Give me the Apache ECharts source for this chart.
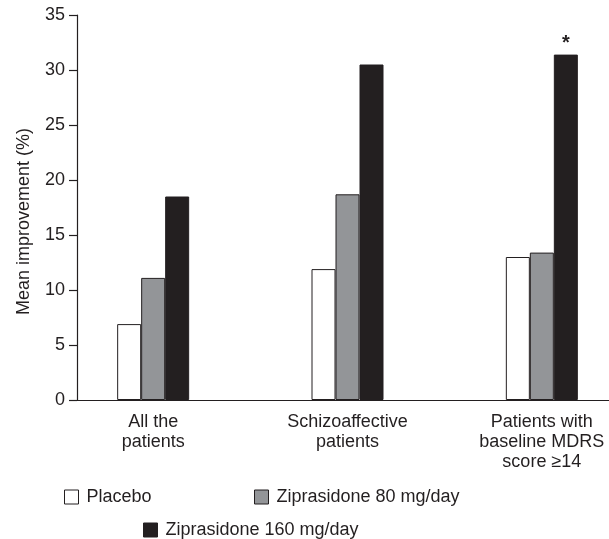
<!DOCTYPE html>
<html>
<head>
<meta charset="utf-8">
<script src="https://cdn.jsdelivr.net/npm/echarts@6/dist/echarts.min.js"></script>
<style>
  html, body { margin: 0; padding: 0; background: #ffffff; overflow: hidden; }
  /* the drawing surface runs a little past the right edge of the view */
  #chart { width: 640px; height: 539px; }
</style>
</head>
<body>
<div id="chart"></div>
<script>
// Patient groups on the x axis
var categories = ['All the\npatients', 'Schizoaffective\npatients', 'Patients with\nbaseline MDRS\nscore \u226514'];

// Mean improvement (%) per treatment arm
var placebo = [6.9, 11.9, 13.0];
var zip80 = [11.1, 18.7, 13.4];
var zip160 = [18.5, 30.5, 31.4];

// Significance marker per group for the 160 mg/day arm
var zip160Marks = ['', '', '*'];

// Y axis range and step
var yMin = 0, yMax = 35, yStep = 5;

var seriesNames = ['Placebo', 'Ziprasidone 80 mg/day', 'Ziprasidone 160 mg/day'];

var FONT = 'Liberation Sans, Arial, sans-serif';
var INK = '#231f20';

var chart = echarts.init(document.getElementById('chart'), null, { renderer: 'canvas' });

function barSeries(name, values, fill, marks) {
  return {
    name: name,
    type: 'bar',
    xAxisIndex: 1,
    yAxisIndex: 1,
    barWidth: 24,
    barGap: '0%',
    itemStyle: { color: fill, borderColor: INK, borderWidth: 1 },
    label: marks ? {
      show: true,
      position: 'top',
      distance: 1,
      formatter: function (p) { return marks[p.dataIndex]; },
      fontFamily: FONT,
      fontSize: 20,
      fontWeight: 'bold',
      color: INK
    } : { show: false },
    emphasis: { disabled: true },
    animation: false,
    data: values
  };
}

var legendCommon = {
  icon: 'rect',
  itemWidth: 14,
  itemHeight: 14,
  padding: 0,
  selectedMode: false,
  itemStyle: { borderColor: INK, borderWidth: 1 },
  textStyle: { fontFamily: FONT, fontSize: 18, color: INK, padding: [0, 0, 0, 3] }
};

chart.setOption({
  backgroundColor: '#ffffff',
  animation: false,
  textStyle: { fontFamily: FONT },
  grid: [
    // frame grid carrying the visible value axis and baseline
    { left: 77, right: 31, top: 15, bottom: 139, containLabel: false },
    // bar grid: three equal bands, the last running past the visible edge
    { left: 56, right: 1, top: 15, bottom: 139, containLabel: false }
  ],
  xAxis: [
    {
      gridIndex: 0,
      type: 'value',
      min: 0,
      max: 1,
      axisLine: { show: true, lineStyle: { color: INK, width: 1.2 } },
      axisTick: { show: false },
      axisLabel: { show: false },
      splitLine: { show: false }
    },
    {
      gridIndex: 1,
      type: 'category',
      data: categories,
      axisLine: { show: false },
      axisTick: { show: false },
      axisLabel: {
        margin: 12,
        fontFamily: FONT,
        fontSize: 18,
        lineHeight: 20,
        color: INK,
        interval: 0
      }
    }
  ],
  yAxis: [
    {
      gridIndex: 0,
      type: 'value',
      min: yMin,
      max: yMax,
      interval: yStep,
      name: 'Mean improvement (%)',
      nameLocation: 'middle',
      nameGap: 44,
      nameTextStyle: { fontFamily: FONT, fontSize: 18, color: INK, padding: [0, 28, 0, 0] },
      axisLine: { show: true, lineStyle: { color: INK, width: 1.2 } },
      axisTick: { show: true, length: 8, lineStyle: { color: INK, width: 1.2 } },
      axisLabel: { margin: 12, fontFamily: FONT, fontSize: 18, color: INK },
      splitLine: { show: false }
    },
    {
      gridIndex: 1,
      type: 'value',
      min: yMin,
      max: yMax,
      interval: yStep,
      show: false
    }
  ],
  legend: [
    Object.assign({}, legendCommon, { data: [seriesNames[0]], left: 64, top: 488 }),
    Object.assign({}, legendCommon, { data: [seriesNames[1]], left: 254, top: 488 }),
    Object.assign({}, legendCommon, { data: [seriesNames[2]], left: 143, top: 521 })
  ],
  series: [
    barSeries(seriesNames[0], placebo, '#ffffff'),
    barSeries(seriesNames[1], zip80, '#939598'),
    barSeries(seriesNames[2], zip160, INK, zip160Marks)
  ]
});
</script>
</body>
</html>
